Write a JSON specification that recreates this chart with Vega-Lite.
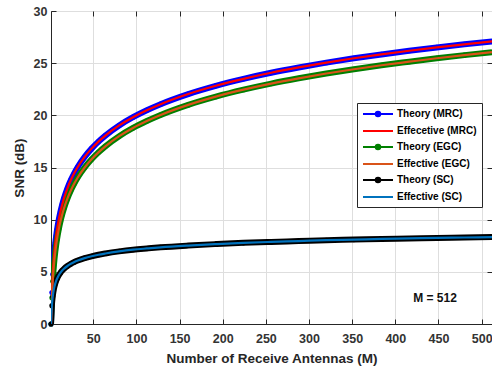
{
  "$schema": "https://vega.github.io/schema/vega-lite/v6.json",
  "width": 441,
  "height": 313,
  "autosize": {"type": "none"},
  "padding": {"left": 51, "top": 11, "right": 0, "bottom": 46},
  "background": "white",
  "config": {
    "font": "Liberation Sans",
    "view": {"stroke": "#262626", "strokeWidth": 1},
    "axis": {
      "domainColor": "#262626",
      "tickColor": "#262626",
      "tickSize": -5,
      "gridColor": "#dedede",
      "gridWidth": 1,
      "labelFont": "Liberation Sans",
      "labelFontSize": 12.5,
      "labelFontWeight": "bold",
      "labelColor": "#333333",
      "titleFont": "Liberation Sans",
      "titleFontSize": 13.5,
      "titleFontWeight": "bold",
      "titleColor": "#262626"
    }
  },
  "datasets": {
    "curves": [
      {"M": 1, "mrc_theory": 0, "mrc_eff": 0, "egc_theory": 0, "egc_eff": 0, "sc_theory": 0, "sc_eff": 0},
      {"M": 2, "mrc_theory": 3.01, "mrc_eff": 3.01, "egc_theory": 2.52, "egc_eff": 2.52, "sc_theory": 1.76, "sc_eff": 1.76},
      {"M": 3, "mrc_theory": 4.77, "mrc_eff": 4.77, "egc_theory": 4.10, "egc_eff": 4.10, "sc_theory": 2.63, "sc_eff": 2.63},
      {"M": 4, "mrc_theory": 6.02, "mrc_eff": 6.02, "egc_theory": 5.26, "egc_eff": 5.26, "sc_theory": 3.19, "sc_eff": 3.19},
      {"M": 5, "mrc_theory": 6.99, "mrc_eff": 6.99, "egc_theory": 6.17, "egc_eff": 6.17, "sc_theory": 3.59, "sc_eff": 3.59},
      {"M": 6, "mrc_theory": 7.78, "mrc_eff": 7.78, "egc_theory": 6.93, "egc_eff": 6.93, "sc_theory": 3.89, "sc_eff": 3.89},
      {"M": 7, "mrc_theory": 8.45, "mrc_eff": 8.45, "egc_theory": 7.57, "egc_eff": 7.57, "sc_theory": 4.14, "sc_eff": 4.14},
      {"M": 8, "mrc_theory": 9.03, "mrc_eff": 9.03, "egc_theory": 8.13, "egc_eff": 8.13, "sc_theory": 4.34, "sc_eff": 4.34},
      {"M": 10, "mrc_theory": 10.00, "mrc_eff": 10.00, "egc_theory": 9.07, "egc_eff": 9.07, "sc_theory": 4.67, "sc_eff": 4.67},
      {"M": 12, "mrc_theory": 10.79, "mrc_eff": 10.79, "egc_theory": 9.84, "egc_eff": 9.84, "sc_theory": 4.92, "sc_eff": 4.92},
      {"M": 14, "mrc_theory": 11.46, "mrc_eff": 11.46, "egc_theory": 10.50, "egc_eff": 10.50, "sc_theory": 5.12, "sc_eff": 5.12},
      {"M": 16, "mrc_theory": 12.04, "mrc_eff": 12.04, "egc_theory": 11.07, "egc_eff": 11.07, "sc_theory": 5.29, "sc_eff": 5.29},
      {"M": 20, "mrc_theory": 13.01, "mrc_eff": 13.01, "egc_theory": 12.02, "egc_eff": 12.02, "sc_theory": 5.56, "sc_eff": 5.56},
      {"M": 24, "mrc_theory": 13.80, "mrc_eff": 13.80, "egc_theory": 12.80, "egc_eff": 12.80, "sc_theory": 5.77, "sc_eff": 5.77},
      {"M": 28, "mrc_theory": 14.47, "mrc_eff": 14.47, "egc_theory": 13.46, "egc_eff": 13.46, "sc_theory": 5.94, "sc_eff": 5.94},
      {"M": 32, "mrc_theory": 15.05, "mrc_eff": 15.05, "egc_theory": 14.04, "egc_eff": 14.04, "sc_theory": 6.08, "sc_eff": 6.08},
      {"M": 40, "mrc_theory": 16.02, "mrc_eff": 16.02, "egc_theory": 15.00, "egc_eff": 15.00, "sc_theory": 6.31, "sc_eff": 6.31},
      {"M": 48, "mrc_theory": 16.81, "mrc_eff": 16.81, "egc_theory": 15.79, "egc_eff": 15.79, "sc_theory": 6.49, "sc_eff": 6.49},
      {"M": 56, "mrc_theory": 17.48, "mrc_eff": 17.48, "egc_theory": 16.45, "egc_eff": 16.45, "sc_theory": 6.64, "sc_eff": 6.64},
      {"M": 64, "mrc_theory": 18.06, "mrc_eff": 18.06, "egc_theory": 17.03, "egc_eff": 17.03, "sc_theory": 6.76, "sc_eff": 6.76},
      {"M": 80, "mrc_theory": 19.03, "mrc_eff": 19.03, "egc_theory": 18.00, "egc_eff": 18.00, "sc_theory": 6.96, "sc_eff": 6.96},
      {"M": 96, "mrc_theory": 19.82, "mrc_eff": 19.82, "egc_theory": 18.79, "egc_eff": 18.79, "sc_theory": 7.12, "sc_eff": 7.12},
      {"M": 112, "mrc_theory": 20.49, "mrc_eff": 20.49, "egc_theory": 19.45, "egc_eff": 19.45, "sc_theory": 7.24, "sc_eff": 7.24},
      {"M": 128, "mrc_theory": 21.07, "mrc_eff": 21.07, "egc_theory": 20.03, "egc_eff": 20.03, "sc_theory": 7.35, "sc_eff": 7.35},
      {"M": 160, "mrc_theory": 22.04, "mrc_eff": 22.04, "egc_theory": 21.00, "egc_eff": 21.00, "sc_theory": 7.52, "sc_eff": 7.52},
      {"M": 192, "mrc_theory": 22.83, "mrc_eff": 22.83, "egc_theory": 21.79, "egc_eff": 21.79, "sc_theory": 7.66, "sc_eff": 7.66},
      {"M": 224, "mrc_theory": 23.50, "mrc_eff": 23.50, "egc_theory": 22.46, "egc_eff": 22.46, "sc_theory": 7.78, "sc_eff": 7.78},
      {"M": 256, "mrc_theory": 24.08, "mrc_eff": 24.08, "egc_theory": 23.04, "egc_eff": 23.04, "sc_theory": 7.87, "sc_eff": 7.87},
      {"M": 288, "mrc_theory": 24.59, "mrc_eff": 24.59, "egc_theory": 23.55, "egc_eff": 23.55, "sc_theory": 7.95, "sc_eff": 7.95},
      {"M": 320, "mrc_theory": 25.05, "mrc_eff": 25.05, "egc_theory": 24.01, "egc_eff": 24.01, "sc_theory": 8.03, "sc_eff": 8.03},
      {"M": 352, "mrc_theory": 25.47, "mrc_eff": 25.47, "egc_theory": 24.42, "egc_eff": 24.42, "sc_theory": 8.09, "sc_eff": 8.09},
      {"M": 384, "mrc_theory": 25.84, "mrc_eff": 25.84, "egc_theory": 24.80, "egc_eff": 24.80, "sc_theory": 8.15, "sc_eff": 8.15},
      {"M": 416, "mrc_theory": 26.19, "mrc_eff": 26.19, "egc_theory": 25.14, "egc_eff": 25.14, "sc_theory": 8.20, "sc_eff": 8.20},
      {"M": 448, "mrc_theory": 26.51, "mrc_eff": 26.51, "egc_theory": 25.47, "egc_eff": 25.47, "sc_theory": 8.25, "sc_eff": 8.25},
      {"M": 480, "mrc_theory": 26.81, "mrc_eff": 26.81, "egc_theory": 25.77, "egc_eff": 25.77, "sc_theory": 8.29, "sc_eff": 8.29},
      {"M": 512, "mrc_theory": 27.09, "mrc_eff": 27.09, "egc_theory": 26.05, "egc_eff": 26.05, "sc_theory": 8.33, "sc_eff": 8.33}
    ],
    "note": [{"M": 446, "snr": 2.46, "label": "M = 512"}]
  },
  "resolve": {"scale": {"x": "independent", "y": "independent"}},
  "layer": [
    {
      "layer": [
        {
          "data": {"name": "curves"},
          "transform": [
            {"fold": ["mrc_theory", "egc_theory", "sc_theory"], "as": ["series", "snr"]}
          ],
          "mark": {"type": "point", "filled": true, "size": 26, "opacity": 1, "clip": false},
          "encoding": {
            "x": {"field": "M", "type": "quantitative"},
            "y": {"field": "snr", "type": "quantitative"},
            "color": {"field": "series", "type": "nominal"}
          }
        },
        {
          "data": {"name": "curves"},
          "transform": [
            {"fold": ["mrc_theory", "egc_theory", "sc_theory"], "as": ["series", "snr"]}
          ],
          "mark": {"type": "line", "clip": true, "interpolate": "monotone", "strokeWidth": 6},
          "encoding": {
            "x": {"field": "M", "type": "quantitative"},
            "y": {"field": "snr", "type": "quantitative"},
            "color": {"field": "series", "type": "nominal"}
          }
        },
        {
          "data": {"name": "curves"},
          "transform": [
            {"fold": ["mrc_eff", "egc_eff", "sc_eff"], "as": ["series", "snr"]}
          ],
          "mark": {"type": "line", "clip": true, "interpolate": "monotone", "strokeWidth": 2.2},
          "encoding": {
            "x": {
              "field": "M", "type": "quantitative",
              "scale": {"domain": [1, 512], "nice": false, "zero": false},
              "axis": {
                "values": [50, 100, 150, 200, 250, 300, 350, 400, 450, 500],
                "title": "Number of Receive Antennas (M)",
                "labelPadding": 13,
                "titlePadding": 7
              }
            },
            "y": {
              "field": "snr", "type": "quantitative",
              "scale": {"domain": [0, 30], "nice": false},
              "axis": {
                "values": [0, 5, 10, 15, 20, 25, 30],
                "title": "SNR (dB)",
                "labelPadding": 9,
                "titlePadding": 7
              }
            },
            "color": {
              "field": "series", "type": "nominal",
              "scale": {
                "domain": ["mrc_theory", "mrc_eff", "egc_theory", "egc_eff", "sc_theory", "sc_eff"],
                "range": ["#0000ff", "#ff0000", "#008000", "#d95319", "#000000", "#0072bd"]
              },
              "legend": {
                "orient": "none",
                "legendX": 306,
                "legendY": 92,
                "title": null,
                "strokeColor": "#262626",
                "fillColor": "white",
                "padding": 5,
                "symbolType": "M-1,0H5",
                "symbolSize": 100,
                "symbolStrokeWidth": 2,
                "labelFont": "Liberation Sans",
                "labelFontSize": 10,
                "labelFontWeight": "bold",
                "labelColor": "#000000",
                "labelOffset": 23,
                "rowPadding": 4,
                "labelExpr": "datum.value == 'mrc_theory' ? 'Theory (MRC)' : datum.value == 'mrc_eff' ? 'Effecetive (MRC)' : datum.value == 'egc_theory' ? 'Theory (EGC)' : datum.value == 'egc_eff' ? 'Effective (EGC)' : datum.value == 'sc_theory' ? 'Theory (SC)' : 'Effective (SC)'",
                "encode": {
                  "symbols": {
                    "update": {
                      "shape": {"signal": "(datum.value == 'mrc_theory' || datum.value == 'egc_theory' || datum.value == 'sc_theory') ? 'M-1,0H5M1.55,0A0.45,0.45,0,1,0,2.45,0A0.45,0.45,0,1,0,1.55,0Z' : 'M-1,0H5'"},
                      "fill": {"signal": "(datum.value == 'mrc_theory' || datum.value == 'egc_theory' || datum.value == 'sc_theory') ? scale('color', datum.value) : 'transparent'"}
                    }
                  }
                }
              }
            }
          }
        },
        {
          "data": {"name": "note"},
          "mark": {"type": "text", "fontWeight": "bold", "fontSize": 12, "font": "Liberation Sans", "color": "#111111", "align": "center", "baseline": "middle"},
          "encoding": {
            "x": {"field": "M", "type": "quantitative"},
            "y": {"field": "snr", "type": "quantitative"},
            "text": {"field": "label"}
          }
        }
      ]
    },
    {
      "data": {"name": "note"},
      "mark": {"type": "point", "opacity": 0},
      "encoding": {
        "x": {
          "field": "M", "type": "quantitative",
          "scale": {"domain": [1, 512], "nice": false, "zero": false},
          "axis": {"orient": "top", "values": [50, 100, 150, 200, 250, 300, 350, 400, 450, 500], "labels": false, "title": null, "grid": false, "domain": false}
        },
        "y": {
          "field": "snr", "type": "quantitative",
          "scale": {"domain": [0, 30], "nice": false},
          "axis": {"orient": "right", "values": [5, 10, 15, 20, 25], "labels": false, "title": null, "grid": false, "domain": false}
        }
      }
    }
  ]
}
